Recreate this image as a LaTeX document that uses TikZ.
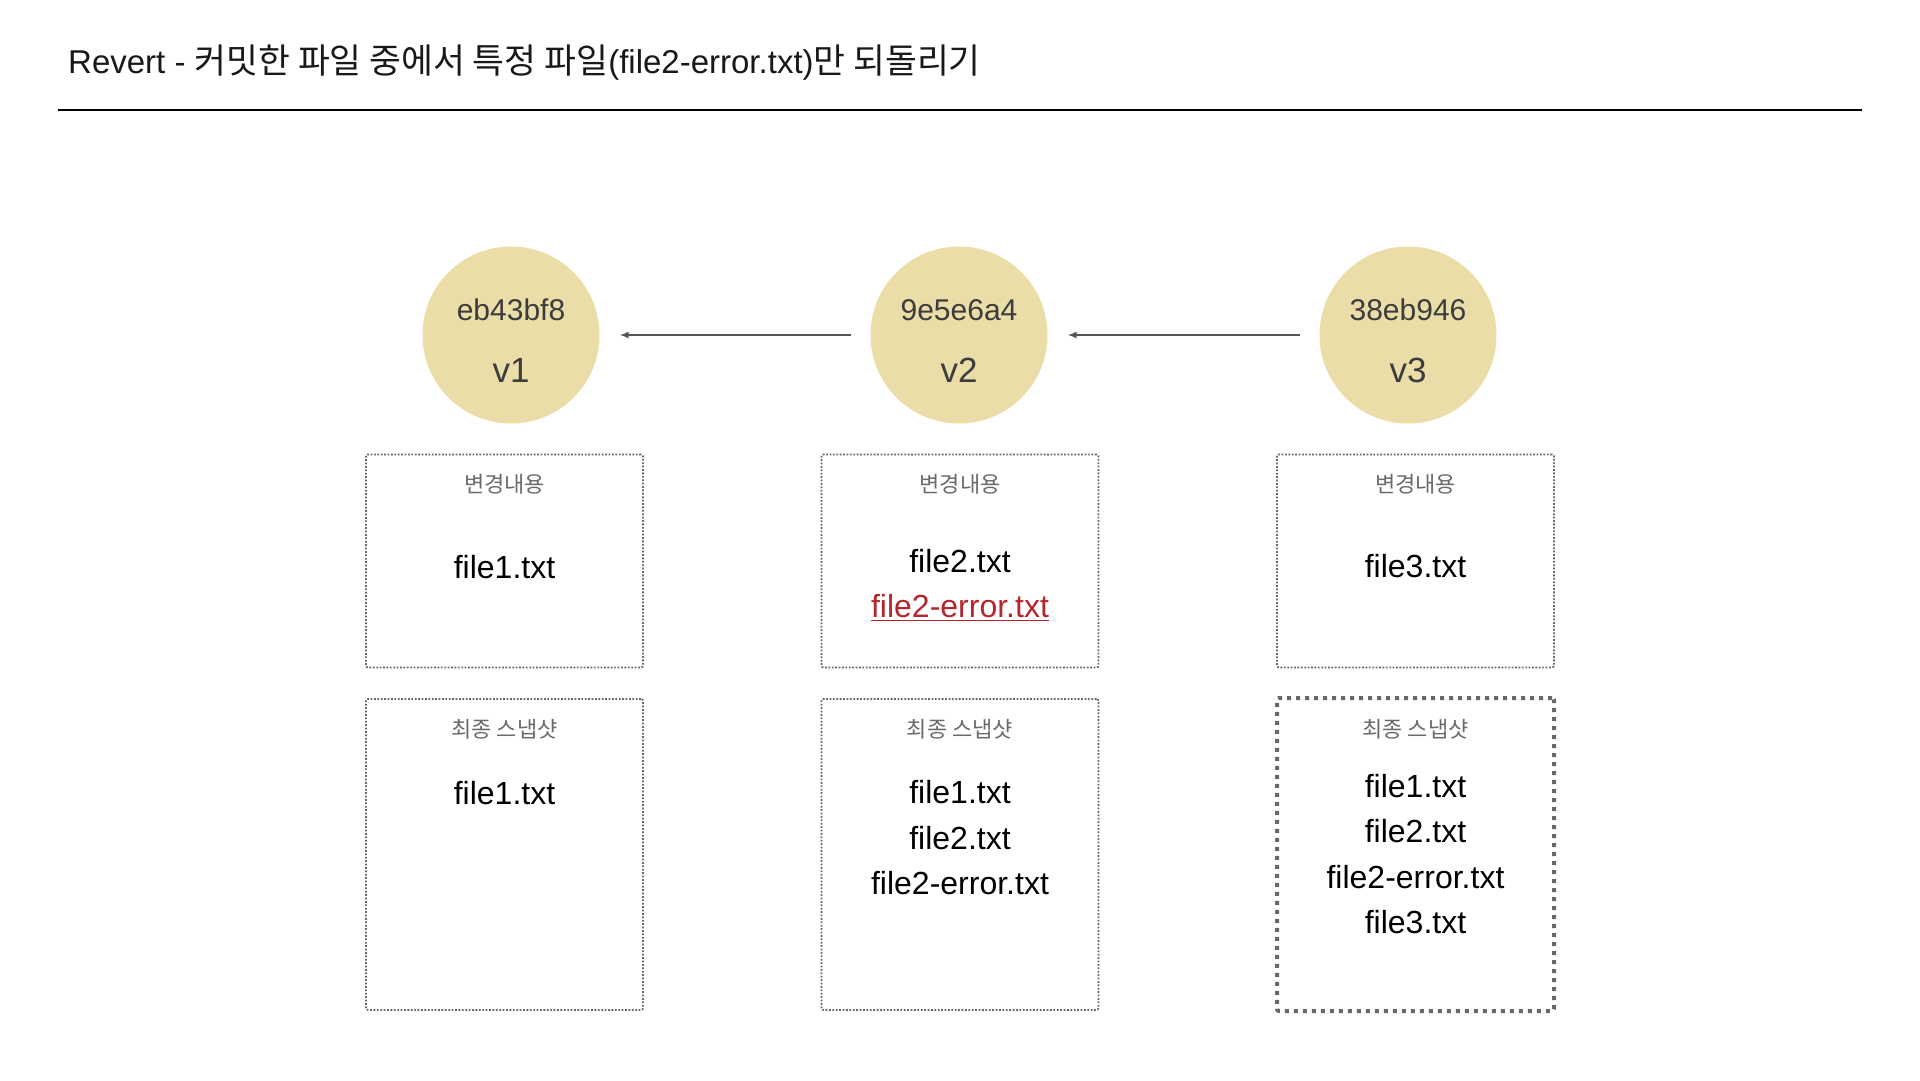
\documentclass[tikz,border=0pt]{standalone}
\usepackage{fontspec}
\setmainfont{Liberation Sans}
\newfontfamily\kr{Noto Sans CJK KR}[Scale=0.88]
\newfontfamily\krtitle{Noto Sans CJK KR}[Scale=1.05]
\usetikzlibrary{arrows.meta}
\definecolor{commitfill}{HTML}{EBDDA8}
\definecolor{committext}{HTML}{3C3C3C}
\definecolor{boxline}{HTML}{686868}
\definecolor{labelgray}{HTML}{6A6A6A}
\definecolor{errred}{HTML}{B5262C}
\definecolor{arrgray}{HTML}{555555}
\tikzset{
  commit/.style={circle, fill=commitfill, draw=none, minimum size=177pt, inner sep=0},
  hashtxt/.style={inner sep=0, text=committext, font=\fontsize{30}{34}\selectfont},
  vertxt/.style={inner sep=0, text=committext, font=\fontsize{35}{40}\selectfont},
  thinbox/.style={draw=boxline, line width=1.8pt, dash pattern=on 1.8pt off 1.6pt, rounded corners=2pt, minimum width=277pt, inner sep=0},
  thickbox/.style={draw=boxline, line width=4pt, dash pattern=on 4pt off 5pt, rounded corners=2pt, minimum width=277pt, inner sep=0},
  boxlabel/.style={inner sep=0, text=labelgray, font=\fontsize{25}{30}\selectfont\kr},
  filetxt/.style={inner sep=0, text=black, font=\fontsize{32}{38}\selectfont},
  arr/.style={draw=arrgray, line width=1.5pt, -{Latex[length=9pt,width=7pt]}, shorten >=20pt, shorten <=19pt},
}
\begin{document}
\begin{tikzpicture}[x=1pt,y=-1pt]
\useasboundingbox (0,0) rectangle (1920,1080);
\fill[white] (0,0) rectangle (1920,1080);

% title and rule
\node[anchor=west, inner sep=0, text=black!90, font=\fontsize{33}{40}\selectfont] (title) at (68,63)
  {Revert - {\krtitle 커밋한 파일 중에서 특정 파일}(file2-error.txt){\krtitle 만 되돌리기}};
\coordinate (rl) at (58,110);
\coordinate (rr) at (1862,110);
\draw[line width=2pt, black] (rl) -- (rr);

% commits
\node[commit] (c1) at (511,335) {};
\node[commit] (c2) at (959,335) {};
\node[commit] (c3) at (1408,335) {};
\node[hashtxt] (h1) at (511,310) {eb43bf8};
\node[hashtxt] (h2) at (959,310) {9e5e6a4};
\node[hashtxt] (h3) at (1408,310) {38eb946};
\node[vertxt] (v1) at (511,370) {v1};
\node[vertxt] (v2) at (959,370) {v2};
\node[vertxt] (v3) at (1408,370) {v3};

\draw[arr] (c2) -- (c1);
\draw[arr] (c3) -- (c2);

% change boxes
\node[thinbox, minimum height=213pt] (b1) at (504.5,561) {};
\node[thinbox, minimum height=213pt] (b2) at (960,561) {};
\node[thinbox, minimum height=213pt] (b3) at (1415.5,561) {};
\node[boxlabel] (l1) at (504.5,484) {변경내용};
\node[boxlabel] (l2) at (960,484) {변경내용};
\node[boxlabel] (l3) at (1415.5,484) {변경내용};
\node[filetxt] (f1) at (504.5,567) {file1.txt};
\node[filetxt] (f2) at (960,561) {file2.txt};
\node[filetxt, text=errred] (f2e) at (960,606) {file2-error.txt};
\draw[errred, line width=1.6pt] ([yshift=-3pt]f2e.base west) -- ([yshift=-3pt]f2e.base east);
\node[filetxt] (f3) at (1415.5,566) {file3.txt};

% snapshot boxes
\node[thinbox, minimum height=311pt] (s1) at (504.5,854.5) {};
\node[thinbox, minimum height=311pt] (s2) at (960,854.5) {};
\node[thickbox, minimum height=313pt] (s3) at (1415.5,854.5) {};
\node[boxlabel] (m1) at (504.5,729) {최종 스냅샷};
\node[boxlabel] (m2) at (960,729) {최종 스냅샷};
\node[boxlabel] (m3) at (1415.5,729) {최종 스냅샷};
\node[filetxt] (s1a) at (504.5,793) {file1.txt};
\node[filetxt] (s2a) at (960,792) {file1.txt};
\node[filetxt] (s2b) at (960,838) {file2.txt};
\node[filetxt] (s2c) at (960,883) {file2-error.txt};
\node[filetxt] (s3a) at (1415.5,786) {file1.txt};
\node[filetxt] (s3b) at (1415.5,831) {file2.txt};
\node[filetxt] (s3c) at (1415.5,877) {file2-error.txt};
\node[filetxt] (s3d) at (1415.5,922) {file3.txt};
\end{tikzpicture}
\end{document}
